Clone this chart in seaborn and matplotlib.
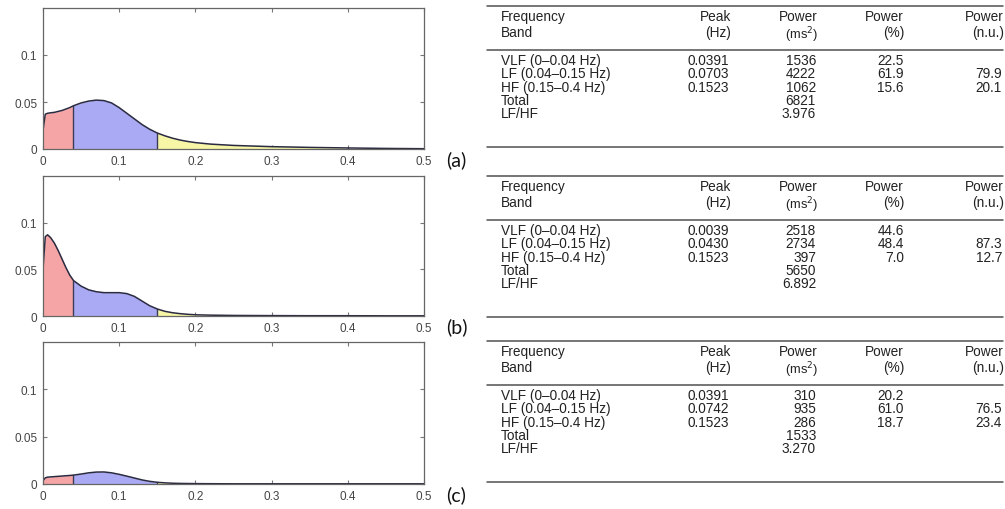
import numpy as np
import matplotlib
matplotlib.use("Agg")
import matplotlib.pyplot as plt
import seaborn as sns
import pandas as pd

W, H = 1005, 510

# ---- spectra (s^2/Hz vs Hz) ----
freq = [0, 0.003, 0.006, 0.01, 0.015, 0.02, 0.025, 0.03, 0.035, 0.04,
        0.05, 0.06, 0.07, 0.08, 0.09, 0.10, 0.11, 0.12, 0.13, 0.14,
        0.15, 0.16, 0.17, 0.18, 0.19, 0.20, 0.22, 0.25, 0.30, 0.35,
        0.40, 0.45, 0.50]
psd_a = [0.020, 0.037, 0.038, 0.0385, 0.039, 0.040, 0.041, 0.0425, 0.044, 0.046,
         0.049, 0.051, 0.052, 0.0515, 0.049, 0.044, 0.038, 0.032, 0.026, 0.021,
         0.017, 0.014, 0.0115, 0.0095, 0.008, 0.0068, 0.0052, 0.0038, 0.0025, 0.0017,
         0.0011, 0.0006, 0.0003]
psd_b = [0.050, 0.085, 0.087, 0.084, 0.078, 0.070, 0.061, 0.052, 0.044, 0.038,
         0.032, 0.028, 0.026, 0.025, 0.025, 0.025, 0.024, 0.021, 0.016, 0.011,
         0.0075, 0.005, 0.0035, 0.0025, 0.0018, 0.0013, 0.0009, 0.0006, 0.0004, 0.0003,
         0.0003, 0.0002, 0.0002]
psd_c = [0.0035, 0.0065, 0.0072, 0.0075, 0.0078, 0.0081, 0.0084, 0.0087, 0.009, 0.0094,
         0.0105, 0.0118, 0.0126, 0.0127, 0.0118, 0.0102, 0.0083, 0.0063, 0.0043, 0.0028,
         0.0018, 0.0012, 0.0008, 0.0006, 0.0005, 0.0004, 0.0003, 0.0002, 0.0002, 0.0002,
         0.0002, 0.0002, 0.0002]

band_edges = [(0, 0.04), (0.04, 0.15), (0.15, 0.4)]
band_colors = ["#f5a5a5", "#aaaaf4", "#f6f6a6"]
panel_tags = ["(a)", "(b)", "(c)"]

# ---- tables ----
row_names = ["VLF (0\u20130.04 Hz)", "LF (0.04\u20130.15 Hz)", "HF (0.15\u20130.4 Hz)", "Total", "LF/HF"]
peak_a = ["0.0391", "0.0703", "0.1523", "", ""]
ms2_a = ["1536", "4222", "1062", "6821", "3.976"]
pct_a = ["22.5", "61.9", "15.6", "", ""]
nu_a = ["", "79.9", "20.1", "", ""]
peak_b = ["0.0039", "0.0430", "0.1523", "", ""]
ms2_b = ["2518", "2734", "397", "5650", "6.892"]
pct_b = ["44.6", "48.4", "7.0", "", ""]
nu_b = ["", "87.3", "12.7", "", ""]
peak_c = ["0.0391", "0.0742", "0.1523", "", ""]
ms2_c = ["310", "935", "286", "1533", "3.270"]
pct_c = ["20.2", "61.0", "18.7", "", ""]
nu_c = ["", "76.5", "23.4", "", ""]

sns.set_style("white")
plt.rcParams['font.family'] = ['Liberation Sans', 'DejaVu Sans']

fig = plt.figure(figsize=(W / 100, H / 100), dpi=100)


def px_axes(x0, y0, x1, y1):
    return fig.add_axes([x0 / W, 1 - y1 / H, (x1 - x0) / W, (y1 - y0) / H])


panel_boxes = [(43, 9, 424, 150), (43, 177, 424, 317), (43, 343, 424, 485)]
spectra = [psd_a, psd_b, psd_c]

for box, psd, tag in zip(panel_boxes, spectra, panel_tags):
    ax = px_axes(*box)
    df = pd.DataFrame({"f": freq, "p": psd})
    for (lo, hi), col in zip(band_edges, band_colors):
        sub = df[(df.f >= lo) & (df.f <= hi)]
        ax.fill_between(sub.f, 0, sub.p, color=col, lw=0)
        ax.plot([hi, hi], [0, sub.p.iloc[-1]], color="#3a3a5a", lw=1)
    sns.lineplot(data=df, x="f", y="p", ax=ax, color="#2a2a40", lw=1.1)
    ax.set_xlim(0, 0.5)
    ax.set_ylim(0, 0.15)
    ax.set_xticks([0, 0.1, 0.2, 0.3, 0.4, 0.5])
    ax.set_xticklabels(["0", "0.1", "0.2", "0.3", "0.4", "0.5"])
    ax.set_yticks([0, 0.05, 0.1])
    ax.set_yticklabels(["0", "0.05", "0.1"])
    ax.set_xlabel("")
    ax.set_ylabel("")
    ax.tick_params(direction="in", length=3, width=0.8, colors="#777777",
                   labelcolor="#444444", labelsize=8.5, top=True, right=True,
                   bottom=True, left=True, pad=4)
    for sp in ax.spines.values():
        sp.set_color("#666666")
        sp.set_linewidth(0.9)
    fig.text(446 / W, 1 - (box[3] + 10) / H, tag, fontsize=14, family="Lato",
             va="center", ha="left", color="#111111")

# ---- tables drawn in pixel coordinates ----
tab = fig.add_axes([0, 0, 1, 1])
tab.set_xlim(0, W)
tab.set_ylim(H, 0)
tab.axis("off")

tables = [(7, peak_a, ms2_a, pct_a, nu_a),
          (177, peak_b, ms2_b, pct_b, nu_b),
          (342, peak_c, ms2_c, pct_c, nu_c)]
fs = 9.8
tc = "#222222"
rc = "#505050"
for top, peak, ms2, pct, nu in tables:
    tab.plot([487, 1003], [top, top], color=rc, lw=1.1)
    tab.plot([487, 1003], [top + 44, top + 44], color=rc, lw=1.1)
    tab.plot([487, 1003], [top + 141, top + 141], color=rc, lw=1.1)
    h1, h2 = top + 10, top + 26
    tab.text(501, h1, "Frequency", fontsize=fs, color=tc, va="center")
    tab.text(501, h2, "Band", fontsize=fs, color=tc, va="center")
    tab.text(731, h1, "Peak", fontsize=fs, color=tc, va="center", ha="right")
    tab.text(731, h2, "(Hz)", fontsize=fs, color=tc, va="center", ha="right")
    tab.text(818, h1, "Power", fontsize=fs, color=tc, va="center", ha="right")
    tab.text(818, h2 + 2, "(ms$^2$)", fontsize=fs - 0.5, color=tc, va="center", ha="right")
    tab.text(904, h1, "Power", fontsize=fs, color=tc, va="center", ha="right")
    tab.text(904, h2, "(%)", fontsize=fs, color=tc, va="center", ha="right")
    tab.text(1004, h1, "Power", fontsize=fs, color=tc, va="center", ha="right")
    tab.text(1004, h2, "(n.u.)", fontsize=fs, color=tc, va="center", ha="right")
    for i, name in enumerate(row_names):
        y = top + 54 + 13.3 * i
        tab.text(501, y, name, fontsize=fs, color=tc, va="center")
        tab.text(729, y, peak[i], fontsize=fs, color=tc, va="center", ha="right")
        tab.text(816, y, ms2[i], fontsize=fs, color=tc, va="center", ha="right")
        tab.text(904, y, pct[i], fontsize=fs, color=tc, va="center", ha="right")
        tab.text(1002, y, nu[i], fontsize=fs, color=tc, va="center", ha="right")

fig.savefig("out.png", dpi=100)
